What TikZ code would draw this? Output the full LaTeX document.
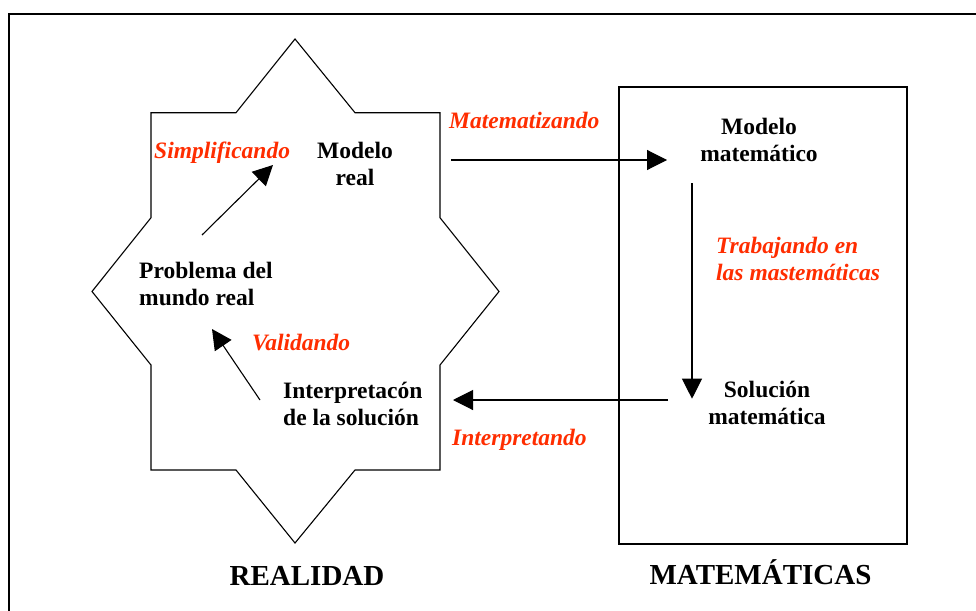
\documentclass[tikz,border=0pt]{standalone}
\usepackage{fontspec}
\setmainfont{Liberation Serif}
\usetikzlibrary{arrows.meta}
\definecolor{labred}{RGB}{255,45,0}

\begin{document}
\begin{tikzpicture}
  [x=1pt,y=-1pt,every node/.style={inner sep=0pt,anchor=base,font=\bfseries\fontsize{23.5}{27}\selectfont},
   lab/.style={text=labred,font=\bfseries\itshape\fontsize{23.5}{27}\selectfont},
   bigtitle/.style={font=\bfseries\fontsize{29}{32}\selectfont},
   arr/.style={-{Triangle[length=20pt,width=20pt]},line width=1.1pt}]
  \useasboundingbox (0,0) rectangle (976,610);
  \draw[line width=2.2pt] (9,612) -- (9,14) -- (978,14);

  % the star (realidad) and the box (matematicas)
  \draw[line width=1.1pt] (151,112.7) -- (236,112.7) -- (295,39) -- (355,112.7) -- (440,112.7)
    -- (440,217.7) -- (499,291.5) -- (440,365) -- (440,470) -- (355,470) -- (295,543)
    -- (236,470) -- (151,470) -- (151,365) -- (92,291.5) -- (151,217.7) -- cycle;
  \draw[line width=1.3pt] (619,87) rectangle (907,544);

  % base of a two-line node = baseline of its last line
  \node (mreal) at (355,185) [align=center] {Modelo\\real};
  \node (prob) at (139,305) [anchor=base west,align=left] {Problema del\\mundo real};
  \node (interp) at (283,425) [anchor=base west,align=left] {Interpretacón\\de la solución};
  \node (mmat) at (759,161) [align=center] {Modelo\\matemático};
  \node (sol) at (767,424.5) [align=center] {Solución\\matemática};
  \node (realidad) at (307,585) [bigtitle] {REALIDAD};
  \node (matem) at (760.5,584) [bigtitle] {MATEMÁTICAS};

  \node (simp) at (154,158) [lab,anchor=base west] {Simplificando};
  \node (mtz) at (449,128) [lab,anchor=base west] {Matematizando};
  \node (trab) at (716,280) [lab,anchor=base west,align=left] {Trabajando en\\las mastemáticas};
  \node (valid) at (252,350) [lab,anchor=base west] {Validando};
  \node (intp) at (452,445) [lab,anchor=base west] {Interpretando};

  \coordinate (simpA) at (202,235);  \coordinate (simpB) at (273,165);
  \coordinate (mtzA) at (451,160);   \coordinate (mtzB) at (667,160);
  \coordinate (trabA) at (692,183);  \coordinate (trabB) at (692,398.7);
  \coordinate (intpA) at (668,400);  \coordinate (intpB) at (453,400);
  \coordinate (validA) at (260,400); \coordinate (validB) at (212,329);

  \foreach \from/\to in {simpA/simpB,mtzA/mtzB,trabA/trabB,intpA/intpB,validA/validB}
    \draw[arr] (\from) -- (\to);

\end{tikzpicture}
\end{document}
